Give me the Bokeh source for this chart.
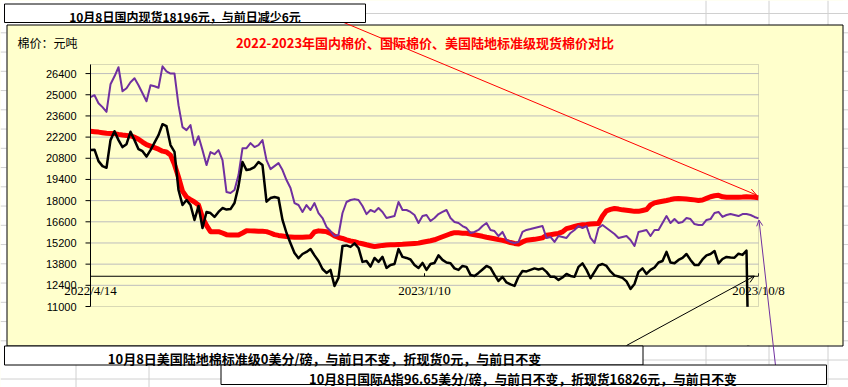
from bokeh.plotting import figure
from bokeh.models import Range1d, Label, Arrow, OpenHead, BoxAnnotation
from bokeh.embed import file_html
from bokeh.resources import INLINE

# ---------------- data ----------------
# 国内棉价 (red)
domestic_price = [
    22590, 22560, 22530, 22490, 22450, 22440, 22430, 22380, 22340, 22310,
    22280, 22200, 22060, 21870, 21700, 21600, 21500, 21400, 21270, 21220,
    21010, 20380, 19560, 18630, 18240, 18070, 17910, 17710, 16880, 16360,
    15950, 15950, 15950, 15860, 15750, 15730, 15730, 15730, 15860, 16010,
    16000, 15990, 15980, 15970, 15950, 15860, 15750, 15700, 15660, 15620,
    15600, 15580, 15580, 15580, 15600, 15610, 15930, 16000, 15980, 15950,
    15830, 15660, 15560, 15500, 15400, 15330, 15290, 15210, 15150, 15080,
    15020, 14960, 15000, 15040, 15070, 15080, 15090, 15100, 15110, 15130,
    15150, 15170, 15190, 15250, 15300, 15350, 15410, 15510, 15610, 15710,
    15810, 15880, 15870, 15850, 15840, 15790, 15740, 15690, 15640, 15580,
    15530, 15480, 15420, 15370, 15310, 15230, 15170, 15130, 15270, 15380,
    15410, 15440, 15490, 15540, 15710, 15750, 15790, 15830, 15930, 16150,
    16220, 16290, 16360, 16400, 16420, 16450, 16470, 16490, 16980, 17330,
    17420, 17480, 17440, 17390, 17360, 17330, 17290, 17290, 17350, 17410,
    17710, 17850, 17910, 17960, 18010, 18070, 18120, 18140, 18120, 18100,
    18080, 18050, 18010, 18040, 18150, 18260, 18320, 18350, 18250, 18220,
    18220, 18220, 18230, 18240, 18260, 18240, 18220, 18196,
]
# 国际棉价 (purple)
intl_price = [
    24840, 24970, 24440, 24180, 23870, 25690, 26220, 26820, 25230, 25430,
    25830, 26090, 25630, 25100, 24570, 25630, 25560, 25460, 26880, 26550,
    26400, 26400, 24310, 22860, 22660, 22990, 21670, 22260, 21340, 20350,
    21210, 21070, 21340, 20680, 18570, 18500, 18700, 19690, 21470, 21470,
    21800, 21540, 21670, 22000, 20680, 20080, 20280, 20480, 20020, 19360,
    18830, 17840, 17710, 17250, 17710, 17380, 17840, 17180, 16850, 16260,
    15990, 15660, 15730, 17180, 17910, 18040, 18100, 18040, 17640, 17110,
    17380, 17250, 17510, 17250, 16850, 16920, 16980, 17910, 17380, 17380,
    17250, 17050, 16520, 16980, 17050, 16650, 16850, 17110, 17250, 17380,
    16850, 16590, 16520, 16320, 16190, 15860, 15930, 16060, 16320, 16520,
    16060, 15990, 15660, 15930, 15400, 15270, 15200, 15270, 15930, 16060,
    16120, 16190, 16260, 16320, 15530, 15600, 15270, 15660, 15600, 15530,
    15860, 16060, 16320, 16190, 16320, 15530, 15200, 16190, 16390, 16190,
    15990, 15790, 15530, 15600, 15660, 15400, 15000, 15930, 15990, 16060,
    15660, 16060, 16060, 16520, 16980, 16520, 16780, 16520, 16590, 16850,
    16780, 16450, 16390, 16390, 16720, 16780, 17180, 17250, 16920, 17050,
    17110, 17050, 16980, 17110, 17110, 17050, 16920, 16826,
]
# 美国陆地棉标准级 (black)
us_land_price = [
    21340, 21370, 20610, 20280, 20170, 22000, 22590, 22000, 21540, 21730,
    22550, 22000, 21400, 21270, 20910, 21340, 21830, 22330, 23050, 22920,
    21670, 21230, 18700, 17710, 18040, 17710, 16720, 17640, 16190, 17250,
    17180, 16920, 17250, 17510, 17410, 17440, 17840, 18960, 20550, 20020,
    20080, 20220, 20550, 20350, 17930, 18170, 18240, 18170, 16720, 15860,
    15180, 14540, 14190, 14470, 14610, 14800, 14380, 14010, 13480, 13220,
    13420, 12360, 12890, 15000, 15040, 14940, 15170, 14870, 13950, 14010,
    13640, 14210, 13950, 14280, 13550, 13750, 13810, 14800, 14280, 14210,
    14110, 13750, 13550, 13880, 13420, 13810, 13880, 14380, 14080, 13910,
    13860, 13520, 13420, 13680, 13620, 13090, 13020, 13220, 13450, 13680,
    13550, 13090, 12690, 12960, 12590, 12460, 12360, 12960, 13350, 13320,
    13420, 13520, 13450, 13520, 13290, 12960, 12960, 12760, 12920, 13150,
    13020, 12960, 13620, 13850, 13420, 12870, 13290, 13720, 13810, 13680,
    13320, 13060, 12980, 12890, 12660, 12160, 12490, 13290, 13520, 13150,
    13420, 13580, 13910, 14010, 14610, 13910, 13860, 14080, 14210, 14470,
    14080, 13750, 13750, 14110, 14380, 14470, 14670, 13850, 14140, 14280,
    14240, 14230, 14490, 14410, 14690, 0,
]
y_ticks = [11000, 12400, 13800, 15200, 16600, 18000, 19400, 20800, 22200, 23600, 25000, 26400]
x_tick_labels = ["2022/4/14", "2023/1/10", "2023/10/8"]
axis_cross_value = 13000
y_min, y_max = 11000, 27000

title_text = "2022-2023年国内棉价、国际棉价、美国陆地标准级现货棉价对比"
unit_text = "棉价：元吨"
note_domestic = "10月8日国内现货18196元，与前日减少6元"
note_us = "10月8日美国陆地棉标准级0美分/磅，与前日不变，折现货0元，与前日不变"
note_intl = "10月8日国际A指96.65美分/磅，与前日不变，折现货16826元，与前日不变"

# ---------------- layout (page pixels) ----------------
W, H = 848, 387
FL, FR, FT, FB = 90, 758, 64, 306     # plot area
N = len(domestic_price)
YELLOW = "#FFFFCC"
GRIDC = "#D0D0D0"
CJK = "Noto Sans CJK SC"


def X(px):
    return (px - FL) / (FR - FL) * (N - 1)


def Y(py):
    return y_max - (py - FT) / (FB - FT) * (y_max - y_min)


PX_X = (N - 1) / (FR - FL)
PX_Y = (y_max - y_min) / (FB - FT)

p = figure(width=W, height=H, output_backend="svg", toolbar_location=None,
           title=None, x_range=Range1d(X(0), X(W)), y_range=Range1d(Y(H), Y(0)),
           x_axis_location=None, y_axis_location=None,
           min_border_left=0, min_border_right=0, min_border_top=0, min_border_bottom=0)
p.background_fill_color = YELLOW
p.border_fill_color = YELLOW
p.outline_line_color = None
p.grid.visible = False

# horizontal grid lines of the plot area
gy = y_ticks[1:]
p.segment(x0=[0] * len(gy), y0=gy, x1=[N - 1] * len(gy), y1=gy,
          line_color="#BDBDBD", line_width=1)

# series
p.line(list(range(len(domestic_price))), domestic_price, line_color="#FF0000",
       line_width=5, line_join="round")
p.line(list(range(len(intl_price))), intl_price, line_color="#7030A0",
       line_width=2, line_join="round")
p.line(list(range(len(us_land_price))), us_land_price, line_color="black",
       line_width=2.5, line_join="round")

# category axis crossing at 13000, with its ticks
p.segment(x0=[0], y0=[axis_cross_value], x1=[N - 1], y1=[axis_cross_value],
          line_color="black", line_width=1)
tick_pos = [0, (N - 1) / 2, N - 1]
p.segment(x0=tick_pos, y0=[axis_cross_value] * 3, x1=tick_pos,
          y1=[axis_cross_value + 3 * PX_Y] * 3, line_color="black", line_width=1)

# value-axis ticks
p.segment(x0=[-5 * PX_X] * len(y_ticks), y0=y_ticks, x1=[0] * len(y_ticks), y1=y_ticks,
          line_color="black", line_width=1)


# ---------------- helpers ----------------
def box(l, r, t, b, fill="white", line=None, width=1):
    p.add_layout(BoxAnnotation(left=X(l), right=X(r), top=Y(t), bottom=Y(b),
                               fill_color=fill, fill_alpha=1 if fill else 0,
                               line_color=line, line_alpha=1 if line else 0,
                               line_width=width))


def seg(x0, y0, x1, y1, color=GRIDC, width=1, head=None):
    p.add_layout(Arrow(x_start=X(x0), y_start=Y(y0), x_end=X(x1), y_end=Y(y1),
                       start=None, end=head, line_color=color, line_width=width))


def text(x, y, s, size, color="black", bold=False, align="center", font=CJK):
    p.add_layout(Label(x=X(x), y=Y(y), text=s, text_align=align, text_baseline="middle",
                       text_font=font, text_font_size=size, text_color=color,
                       text_font_style="bold" if bold else "normal"))


# yellow below the plot area (hides the drop of the last black value)
box(90.6, 757.5, 306.6, 345, fill=YELLOW)

# sheet outside the chart
box(-10, 860, -10, 24.5)
box(-10, 860, 345, 400)
box(-10, 6.5, -10, 400)
box(842.5, 860, -10, 400)
sheet_rows = [13.05 + 19.25 * k for k in range(20)]
for ry in sheet_rows:
    if 24.5 < ry < 345:
        seg(0, ry, 6, ry)
        seg(843, ry, 848, ry)
seg(642, 359.5, 848, 359.5)
seg(0, 378.5, 221, 378.5)
seg(826, 378.5, 848, 378.5)
seg(365, 13, 848, 13)
for gx in (75.5, 148.5):
    seg(gx, 364, gx, 387)
for gx in (705.5, 768.5):
    seg(gx, 345, gx, 364)
    seg(gx, 0, gx, 24.5)
seg(827.5, 345, 827.5, 387)
seg(827.5, 0, 827.5, 24.5)

# chart-area border
box(6.5, 842.5, 24.5, 345.5, fill=None, line="black")

# plot-area border and value axis line
p.add_layout(BoxAnnotation(left=0, right=N - 1, top=y_max, bottom=y_min,
                           fill_alpha=0, line_color="#808080", line_width=1))
p.add_layout(Arrow(x_start=0, y_start=y_min, x_end=0, y_end=y_max, start=None, end=None,
                   line_color="black", line_width=1))

# value-axis labels
for t in y_ticks:
    p.add_layout(Label(x=-14 * PX_X, y=t, text=str(t), text_align="right",
                       text_baseline="middle", text_font="Liberation Sans",
                       text_font_size="11px", text_color="black"))
# category labels
for pos, lab in zip(tick_pos, x_tick_labels):
    p.add_layout(Label(x=pos, y=axis_cross_value - 14.5 * PX_Y, text=lab,
                       text_align="center", text_baseline="middle",
                       text_font="Liberation Serif", text_font_size="13px",
                       text_color="black"))

# connectors
seg(341, 21, 756, 194.5, color="#FF0000", width=1,
    head=OpenHead(size=7, line_color="#FF0000", line_width=1))
seg(626, 345, 754, 275.5, color="black", width=1,
    head=OpenHead(size=7, line_color="black", line_width=1))
seg(775, 365, 758.5, 219.5, color="#7030A0", width=1,
    head=OpenHead(size=6, line_color="#7030A0", line_width=1))

# note boxes
box(4, 365, 3.5, 22, line="black")
box(4, 642.5, 345.5, 364.5, line="black")
box(220.5, 826, 364.5, 384, line="black")

text(184.5, 16, note_domestic, "12px", bold=True)
text(17, 42, unit_text, "12px", align="left")
text(424.5, 42, title_text, "13px", color="#FF0000", bold=True)
text(324, 357.5, note_us, "13px", bold=True)
text(522.5, 377.5, note_intl, "12.8px", bold=True)

open("out.html", "w").write(file_html(p, INLINE))
